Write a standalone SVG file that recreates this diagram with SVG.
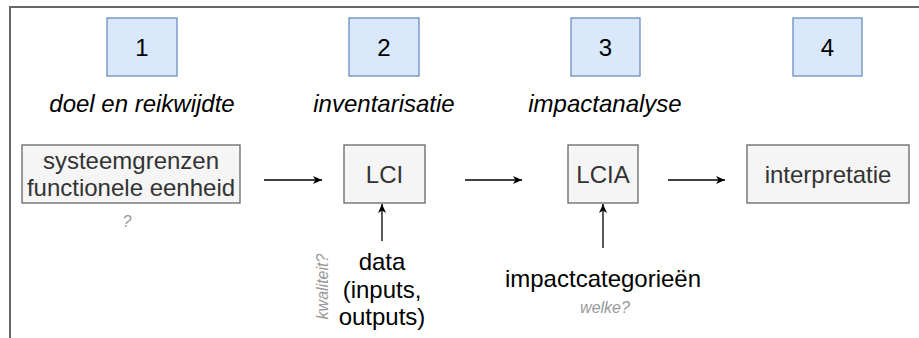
<svg xmlns="http://www.w3.org/2000/svg" width="919" height="338" viewBox="0 0 919 338">
<defs>
<style>
text{font-family:"Liberation Sans",Arial,sans-serif;}
.num{fill:#dae8fc;stroke:#6c8ebf;stroke-width:1.3;}
.box{fill:#f5f5f5;stroke:#666666;stroke-width:1.3;}
.t24{font-size:24px;fill:#000;text-anchor:middle;}
.bt{font-size:24px;fill:#333333;text-anchor:middle;}
.it{font-style:italic;}
.note{font-size:16px;font-style:italic;fill:#999999;text-anchor:middle;}
.conn{stroke:#000;stroke-width:1.3;fill:none;}
</style>
<marker id="ah" viewBox="0 0 10 10" refX="9" refY="5" markerWidth="10" markerHeight="10" markerUnits="userSpaceOnUse" orient="auto">
<path d="M0,1 L9,5 L0,9 L2.5,5 Z" fill="#000"/>
</marker>
</defs>
<rect x="10" y="7" width="920" height="340" fill="none" stroke="#666666" stroke-width="2"/>
<g id="step1"><rect class="num" x="107" y="18" width="70" height="58"/><text class="t24" x="142" y="56">1</text></g>
<g id="step2"><rect class="num" x="349" y="18" width="70" height="58"/><text class="t24" x="384" y="56">2</text></g>
<g id="step3"><rect class="num" x="571" y="18" width="69" height="58"/><text class="t24" x="605.5" y="56">3</text></g>
<g id="step4"><rect class="num" x="793" y="18" width="69" height="58"/><text class="t24" x="827.5" y="56">4</text></g>
<g id="label1"><text class="t24 it" x="142" y="112">doel en reikwijdte</text></g>
<g id="label2"><text class="t24 it" x="384" y="112">inventarisatie</text></g>
<g id="label3"><text class="t24 it" x="605" y="112">impactanalyse</text></g>
<g id="scope"><rect class="box" x="22" y="145" width="218" height="58"/><text class="bt" x="131" y="169">systeemgrenzen</text><text class="bt" x="131" y="196">functionele eenheid</text></g>
<g id="scope-note"><text class="note" x="127" y="227">?</text></g>
<g id="lci"><rect class="box" x="344" y="145" width="81" height="58"/><text class="bt" x="384.5" y="183">LCI</text></g>
<g id="lcia"><rect class="box" x="568" y="145" width="70" height="58"/><text class="bt" x="603" y="183">LCIA</text></g>
<g id="interpretatie"><rect class="box" x="747" y="145" width="162" height="58"/><text class="bt" x="828" y="183">interpretatie</text></g>
<g id="data"><text class="t24" x="382" y="270">data</text><text class="t24" x="382" y="298">(inputs,</text><text class="t24" x="382" y="325">outputs)</text></g>
<g id="data-note"><text class="note" transform="translate(328,286.5) rotate(-90)" x="0" y="0">kwaliteit?</text></g>
<g id="impactcat"><text class="t24" x="603" y="287">impactcategorieën</text></g>
<g id="impactcat-note"><text class="note" x="605" y="313">welke?</text></g>
<g id="connectors">
<line class="conn" x1="264" y1="180" x2="322" y2="180" marker-end="url(#ah)"/>
<line class="conn" x1="465" y1="180" x2="522" y2="180" marker-end="url(#ah)"/>
<line class="conn" x1="668" y1="180" x2="725" y2="180" marker-end="url(#ah)"/>
<line class="conn" x1="382" y1="241" x2="382" y2="204" marker-end="url(#ah)"/>
<line class="conn" x1="603" y1="248" x2="603" y2="204" marker-end="url(#ah)"/>
</g>
</svg>
